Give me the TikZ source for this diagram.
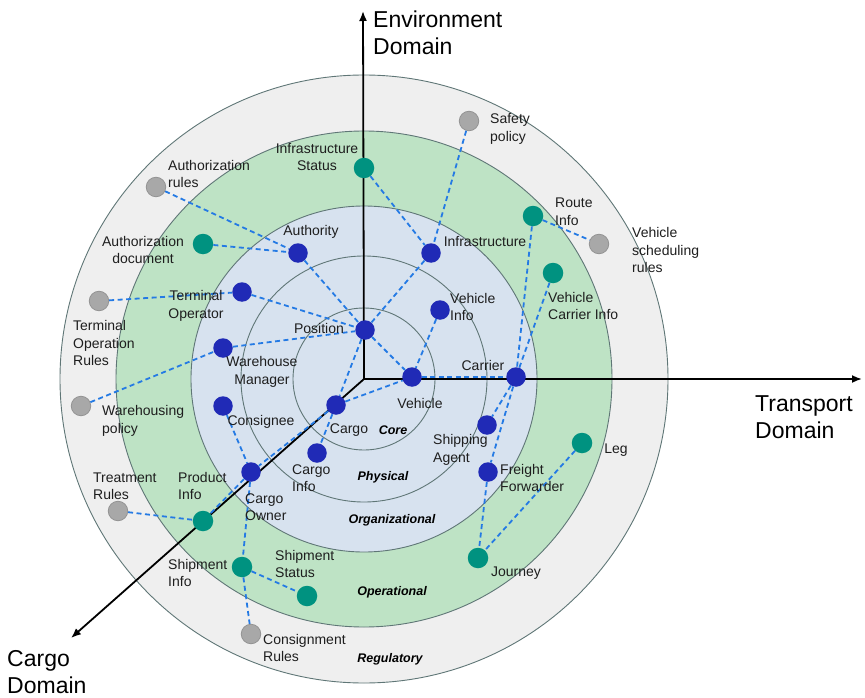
\documentclass[tikz,border=0pt]{standalone}
\usepackage{fontspec}
\setmainfont{Liberation Sans}
\definecolor{regfill}{RGB}{239,239,239}
\definecolor{opfill}{RGB}{190,227,197}
\definecolor{orgfill}{RGB}{215,226,239}
\definecolor{ringline}{RGB}{95,118,118}
\definecolor{dotblue}{RGB}{32,42,182}
\definecolor{dotteal}{RGB}{0,146,128}
\definecolor{dotgray}{RGB}{168,168,168}
\definecolor{linkblue}{RGB}{36,122,228}
\definecolor{txtgray}{RGB}{30,30,30}
\usetikzlibrary{arrows.meta,positioning}

\begin{document}
\begin{tikzpicture}[x=1pt,y=-1pt,
  ring/.style={draw=ringline, line width=0.9pt},
  axisline/.style={draw=black, line width=1.8pt, -{Latex[length=10pt,width=8pt]}},
  link/.style={draw=linkblue, line width=1.8pt, dash pattern=on 5pt off 3.5pt},
  bluedot/.style={circle, fill=dotblue, inner sep=0pt, minimum size=19.5pt},
  tealdot/.style={circle, fill=dotteal, inner sep=0pt, minimum size=20.5pt},
  graydot/.style={circle, fill=dotgray, draw=gray!85, line width=0.8pt, inner sep=0pt, minimum size=19.5pt},
  lbl/.style={inner sep=0pt, text=txtgray, align=left, font=\fontsize{14}{17.5}\selectfont},
  layername/.style={inner sep=0pt, text=black, font=\fontsize{12.5}{15}\selectfont\bfseries\itshape},
  domainlbl/.style={inner sep=0pt, text=black, align=left, font=\fontsize{23}{27}\selectfont}]
\useasboundingbox (0,0) rectangle (865,698);

% rings
\coordinate (o) at (364,379);
\fill[regfill] (o) circle (304);
\fill[opfill] (o) circle (248);
\fill[orgfill] (o) circle (173);
\draw[ring] (o) circle (304);
\draw[ring] (o) circle (248);
\draw[ring] (o) circle (173);
\draw[ring] (o) circle (123);
\draw[ring] (o) circle (71);

% axes
\coordinate (envtip) at (363,11);
\coordinate (transtip) at (862,379);
\coordinate (cargotip) at (71,638);
\draw[axisline] (o) -- (envtip);
\draw[axisline] (o) -- (transtip);
\draw[axisline] (o) -- (cargotip);

% regulatory layer
\node[graydot] (safety) at (469,121) {};
\node[graydot] (authrules) at (156,187) {};
\node[graydot] (vsched) at (599,244) {};
\node[graydot] (termrules) at (99,301) {};
\node[graydot] (whpolicy) at (81,406) {};
\node[graydot] (treat) at (118,511) {};
\node[graydot] (consrules) at (251,634) {};

% operational layer
\node[tealdot] (infstat) at (364,168) {};
\node[tealdot] (route) at (533,216) {};
\node[tealdot] (authdoc) at (203,244) {};
\node[tealdot] (vcarinfo) at (553,273) {};
\node[tealdot] (leg) at (582,443) {};
\node[tealdot] (prodinfo) at (203,521) {};
\node[tealdot] (journey) at (478,558) {};
\node[tealdot] (shipinfo) at (242,567) {};
\node[tealdot] (shipstat) at (307,596) {};

% core, physical and organizational layers
\node[bluedot] (infra) at (431,253) {};
\node[bluedot] (authority) at (298,253) {};
\node[bluedot] (termop) at (242,292) {};
\node[bluedot] (vinfo) at (440,310) {};
\node[bluedot] (pos) at (365,330) {};
\node[bluedot] (whmgr) at (223,348) {};
\node[bluedot] (vehicle) at (412,377) {};
\node[bluedot] (carrier) at (516,377) {};
\node[bluedot] (consignee) at (223,406) {};
\node[bluedot] (cargo) at (336,405) {};
\node[bluedot] (shipagent) at (487,425) {};
\node[bluedot] (cargoinfo) at (317,453) {};
\node[bluedot] (owner) at (251,472) {};
\node[bluedot] (freight) at (488,472) {};

% links
\draw[link] (safety) -- (infra);
\draw[link] (infstat) -- (infra);
\draw[link] (infra) -- (pos);
\draw[link] (authrules) -- (authority);
\draw[link] (authdoc) -- (authority);
\draw[link] (authority) -- (pos);
\draw[link] (termrules) -- (termop);
\draw[link] (termop) -- (pos);
\draw[link] (whpolicy) -- (whmgr);
\draw[link] (whmgr) -- (pos);
\draw[link] (pos) -- (vehicle);
\draw[link] (pos) -- (cargo);
\draw[link] (vinfo) -- (vehicle);
\draw[link] (vehicle) -- (carrier);
\draw[link] (cargo) -- (vehicle);
\draw[link] (route) -- (vsched);
\draw[link] (route) -- (carrier);
\draw[link] (vcarinfo) -- (carrier);
\draw[link] (carrier) -- (shipagent);
\draw[link] (carrier) -- (freight);
\draw[link] (freight) -- (journey);
\draw[link] (leg) -- (journey);
\draw[link] (cargo) -- (cargoinfo);
\draw[link] (cargo) -- (owner);
\draw[link] (consignee) -- (owner);
\draw[link] (owner) -- (prodinfo);
\draw[link] (treat) -- (prodinfo);
\draw[link] (owner) -- (shipinfo);
\draw[link] (shipinfo) -- (shipstat);
\draw[link] (shipinfo) -- (consrules);

% labels
\node[lbl, anchor=west] (l-safety) at (490,129) {Safety\\policy};
\node[lbl, align=center] (l-infstat) at (317,157) {Infrastructure\\Status};
\node[lbl, anchor=west] (l-authrules) at (168,174) {Authorization\\rules};
\node[lbl] (l-authority) at (311,232) {Authority};
\node[lbl, align=center] (l-authdoc) at (143,250) {Authorization\\document};
\node[lbl, align=center] (l-termop) at (196,306) {Terminal\\Operator};
\node[lbl, anchor=west] (l-termrules) at (73,343) {Terminal\\Operation\\Rules};
\node[lbl] (l-pos) at (319,328) {Position};
\node[lbl, align=center] (l-whmgr) at (262,372) {Warehouse\\Manager};
\node[lbl, anchor=west] (l-whpolicy) at (102,421) {Warehousing\\policy};
\node[lbl] (l-consignee) at (261,422) {Consignee};
\node[lbl] (l-cargo) at (349,430) {Cargo};
\node[lbl, anchor=west] (l-cargoinfo) at (292,478) {Cargo\\Info};
\node[lbl, anchor=west] (l-prodinfo) at (178,486) {Product\\Info};
\node[lbl, anchor=west] (l-owner) at (245,507) {Cargo\\Owner};
\node[lbl, anchor=west] (l-treat) at (93,486) {Treatment\\Rules};
\node[lbl, anchor=west] (l-shipinfo) at (168,573) {Shipment\\Info};
\node[lbl, anchor=west] (l-shipstat) at (275,564) {Shipment\\Status};
\node[lbl, anchor=west] (l-consrules) at (263,648) {Consignment\\Rules};
\node[lbl] (l-journey) at (516,573) {Journey};
\node[lbl, anchor=west] (l-freight) at (500,478) {Freight\\Forwarder};
\node[lbl, anchor=west] (l-shipagent) at (433,450) {Shipping\\Agent};
\node[lbl] (l-leg) at (616,450) {Leg};
\node[lbl] (l-vehicle) at (420,403) {Vehicle};
\node[lbl] (l-carrier) at (483,365) {Carrier};
\node[lbl, anchor=west] (l-vinfo) at (450,307) {Vehicle\\Info};
\node[lbl] (l-infra) at (485,242) {Infrastructure};
\node[lbl, anchor=west] (l-route) at (555,212) {Route\\Info};
\node[lbl, anchor=west] (l-vsched) at (632,250) {Vehicle\\scheduling\\rules};
\node[lbl, anchor=west] (l-vcarinfo) at (548,306) {Vehicle\\Carrier Info};

% layer names
\node[layername] (core) at (393,430) {Core};
\node[layername] (physical) at (383,477) {Physical};
\node[layername] (organizational) at (392,520) {Organizational};
\node[layername] (operational) at (392,592) {Operational};
\node[layername] (regulatory) at (390,659) {Regulatory};

% domains
\node[domainlbl, anchor=west] (envdom) at (373,33) {Environment\\Domain};
\node[domainlbl, anchor=west] (transdom) at (755,417) {Transport\\Domain};
\node[domainlbl, anchor=west] (cargodom) at (7,672) {Cargo\\Domain};
\end{tikzpicture}
\end{document}
